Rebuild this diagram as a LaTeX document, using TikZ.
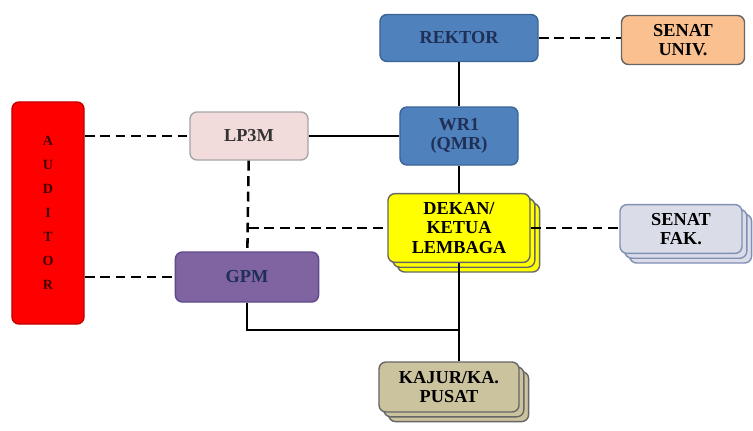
\documentclass[tikz,border=0pt]{standalone}
\usepackage{fontspec}
\setmainfont{Liberation Serif}
\usetikzlibrary{shadows}

\definecolor{rektorblue}{HTML}{4F81BD}
\definecolor{rektorline}{HTML}{3A6496}
\definecolor{senatorange}{HTML}{FAC090}
\definecolor{lpmpink}{HTML}{F2DCDB}
\definecolor{auditred}{HTML}{FF0000}
\definecolor{auditline}{HTML}{C00000}
\definecolor{dekanyellow}{HTML}{FFFF00}
\definecolor{fakgray}{HTML}{DADDE8}
\definecolor{fakline}{HTML}{7F8FB5}
\definecolor{gpmpurple}{HTML}{8064A2}
\definecolor{gpmline}{HTML}{5F4B8B}
\definecolor{kajurtan}{HTML}{CBC29E}
\definecolor{inkblue}{HTML}{1F2F55}

\begin{document}
\begin{tikzpicture}[x=0.025cm, y=-0.025cm]
	\tikzset{unit/.style={draw=gray!80!black, line width=1pt, rounded corners=5pt, align=center,
		inner sep=1pt, font=\bfseries\fontsize{13}{14}\selectfont},
	stack/.style={double copy shadow={shadow xshift=1.2mm, shadow yshift=-1.2mm}},
	lead/.style={line width=1.8pt},
	staff/.style={line width=1.8pt, dash pattern=on 7pt off 4pt}};

	\useasboundingbox (0,0) rectangle (753,430);

	\node[unit, fill=rektorblue, draw=rektorline, text=inkblue, minimum width=3.95cm, minimum height=1.175cm] (rektor) at (459,38) {REKTOR};
	\node[unit, fill=senatorange, minimum width=3.075cm, minimum height=1.225cm] (senatuniv) at (683,40) {SENAT\\UNIV.};
	\node[unit, fill=rektorblue, draw=rektorline, text=inkblue, minimum width=2.95cm, minimum height=1.45cm] (wr1) at (459,136) {WR1\\(QMR)};
	\node[unit, fill=lpmpink, draw=gray!70, text=black!80, minimum width=2.95cm, minimum height=1.2cm] (lp3m) at (249,136) {LP3M};
	\node[unit, fill=auditred, draw=auditline, text=black!75!red, minimum width=1.8cm, minimum height=5.55cm,
		font=\bfseries\fontsize{10}{17}\selectfont] (auditor) at (48,213) {A\\U\\D\\I\\T\\O\\R};
	\node[unit, stack, fill=dekanyellow, minimum width=3.55cm, minimum height=1.72cm] (dekan) at (459,228) {DEKAN/\\KETUA\\LEMBAGA};
	\node[unit, stack, fill=fakgray, draw=fakline, minimum width=3.05cm, minimum height=1.22cm] (senatfak) at (681,229) {SENAT\\FAK.};
	\node[unit, fill=gpmpurple, draw=gpmline, text=inkblue, minimum width=3.58cm, minimum height=1.25cm] (gpm) at (247,277) {GPM};
	\node[unit, stack, fill=kajurtan, draw=gray!80!black, minimum width=3.5cm, minimum height=1.25cm] (kajur) at (449,387) {KAJUR/KA.\\PUSAT};

	\coordinate (branch) at (lp3m |- dekan);
	\coordinate (joint) at (459,330);

	\draw[lead] (rektor) -- (wr1);
	\draw[lead] (wr1) -- (dekan);
	\draw[lead] (lp3m) -- (wr1);
	\draw[lead] (dekan.south) -- (dekan.south |- kajur.north);
	\draw[lead] (gpm) |- (joint);
	\draw[staff] (rektor.east) -- (rektor.east -| senatuniv.west);
	\draw[staff] (auditor.east |- lp3m) -- (lp3m.west);
	\draw[staff] (auditor.east |- gpm) -- (gpm.west);
	\draw[staff] (lp3m) -- (gpm);
	\draw[staff] (branch) -- (dekan.west);
	\draw[staff] (dekan.east) -- (dekan.east -| senatfak.west);
\end{tikzpicture}
\end{document}
